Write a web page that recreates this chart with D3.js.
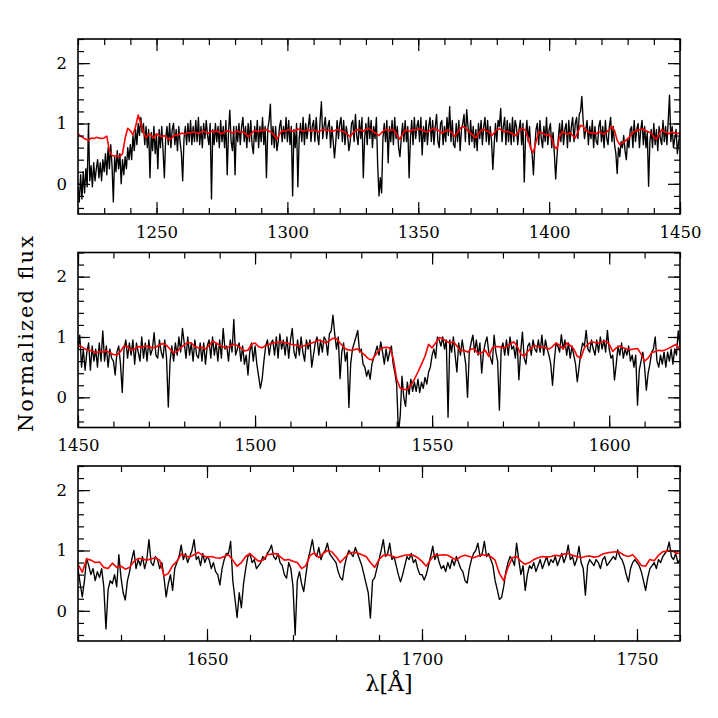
<!DOCTYPE html>
<html><head><meta charset="utf-8">
<script src="https://cdn.jsdelivr.net/npm/d3@7"></script>
<style>body{margin:0;background:#fff}</style>
</head><body>
<svg id="c" width="718" height="718"></svg>
<script>
// wavelength ranges of the three panels (Angstrom)
const range1 = [1220, 1450];
const range2 = [1450, 1620];
const range3 = [1620, 1760];
const xTicks1 = [1250, 1300, 1350, 1400, 1450];
const xTicks2 = [1450, 1500, 1550, 1600];
const xTicks3 = [1650, 1700, 1750];
const yTicks = [0, 1, 2];
const yDomain = [-0.5, 2.4];
const obsStep = 0.5;   // observed spectrum sampling (A)
const modelStep = 1;   // model spectrum sampling (A)
const xTitle = "λ[Å]";
const yTitle = "Normalized flux";

// observed normalized flux, panel 1, 1220..1450 every 0.5 A
const obs1 = [
-.05,-.3,.15,-.25,.2,-.15,.25,-.05,1.0,.05,
.3,-.05,.35,.05,.25,.4,.1,.35,.05,.4,
.2,.5,.15,.6,.25,.65,.3,-.3,.45,.2,
.55,.25,.5,.0,.4,.15,.45,.25,.6,.4,
.65,.4,.8,.55,.9,.65,1.0,.8,1.1,.85,
1.0,.65,.95,.6,.9,.1,.85,.55,.95,.5,
.8,.25,.9,.6,.95,.55,.1,.75,.95,.65,
1.0,.6,.9,1.0,.65,.9,.55,.95,.7,.5,
.05,.75,.95,.65,1.0,.7,1.05,.65,.95,.7,
1.05,.7,1.1,.65,.95,.6,1.0,.75,1.05,.8,
.65,1.0,-.25,.9,.65,1.0,.7,.95,.6,1.05,
.7,.95,.6,1.05,.15,.85,1.22,.7,.55,.95,
.15,.95,.7,1.0,.65,.95,1.1,.7,.95,.6,
1.0,.7,1.05,.65,.5,.95,.7,1.05,.6,.95,
.7,1.1,.65,.95,.1,.9,1.05,1.32,.65,.95,
.6,.95,.55,.7,.95,1.05,.7,.95,.75,1.1,
.7,1.05,.65,.95,-.2,.9,.6,1.0,-.05,.75,
1.0,.7,1.1,.65,1.0,.75,.95,1.15,.7,.95,
1.05,.7,1.1,.8,.65,1.05,1.36,.75,.95,1.1,
.75,.95,1.05,.6,.95,.7,.43,.7,1.05,.75,
1.0,1.1,.7,1.05,.65,.95,.8,.55,.7,1.0,
1.05,.7,1.15,.8,.65,1.05,.75,1.1,.1,.75,
1.0,.65,1.1,.75,1.05,.6,.95,.75,1.1,.3,
-.2,.1,-.15,.75,1.0,.7,1.05,.35,.95,.7,
1.05,.65,1.1,.75,.95,.6,.45,.75,1.0,.7,
1.05,.7,.95,.1,.75,1.05,.65,1.1,.75,.95,
1.05,.7,1.1,.48,.95,.7,1.05,.65,.95,1.1,
.7,1.05,.65,.95,1.15,.7,.6,1.0,1.05,.65,
.95,.7,1.1,.8,1.28,.7,1.05,.65,.6,1.0,
.7,1.05,.55,.9,1.0,1.15,.7,1.23,.95,.65,
1.05,.7,.95,.6,.9,.55,1.0,.75,1.05,.65,
.95,1.1,.7,1.05,.65,.95,.7,.24,.65,1.0,
.7,1.05,.95,1.25,.7,.95,1.1,.65,1.05,.7,
1.0,.65,1.1,.7,1.05,.95,.65,.9,1.05,.65,
1.0,.03,.8,1.05,.7,.95,.6,.5,.15,.6,
.9,1.0,.65,1.05,.75,.6,.95,.7,1.1,.65,
.9,1.0,.6,.85,.5,.08,.45,.75,1.0,.7,
1.05,.65,.9,1.0,.6,1.05,.7,.95,1.1,.7,
1.0,1.1,.75,1.15,1.2,1.45,1.05,.75,.9,1.05,
.65,.95,.75,1.05,.6,.95,.7,.65,.95,1.05,
.7,.95,.6,1.05,.75,.65,.95,1.1,.7,.95,
.65,.5,.17,.6,.45,.7,.6,.8,.55,.4,
.75,.6,.9,.95,.6,1.05,.7,.9,1.0,.6,
.9,1.05,.65,.95,.6,.85,-.04,.7,.9,.6,
1.0,.65,.9,.55,.95,.75,.65,1.05,.7,.95,
.65,1.05,1.47,.7,.95,.6,.75,.9,.5,.7,
.85];

// observed normalized flux, panel 2, 1450..1620 every 0.5 A
const obs2 = [
.8,1.03,.5,.8,.45,.75,.9,.45,.85,.6,
.8,.5,.9,.6,1.1,.6,.85,.5,.8,.65,
.6,.37,.75,.85,.55,.08,.8,.95,.65,.9,
.7,.95,.55,.9,.75,.6,1.0,.65,.9,.6,
.95,.7,.8,1.07,.7,.65,.95,.75,.65,.95,
.65,-.16,.6,.85,.6,.9,.7,1.0,.75,1.14,
.9,.65,1.0,.7,.9,.6,.95,.7,.65,.9,
.6,.9,.55,.85,.95,.65,1.0,.7,.9,.6,
.95,.65,1.14,.8,.85,.6,.95,.75,1.29,.7,
.8,.9,.6,.85,.55,.7,.37,.75,.9,.6,
.85,.55,.35,.15,.3,.6,.85,.95,.7,.9,
.95,.7,1.0,.65,1.05,.8,.95,.7,1.0,.65,
.95,1.14,.75,.65,.95,.7,1.0,.75,.6,.95,
.8,.95,.5,.7,.9,1.0,.7,.95,.75,1.0,
.95,.7,1.05,1.1,1.36,1.05,.8,1.0,.31,.75,
.9,.6,.75,-.17,.55,.8,.9,1.0,1.11,.75,
.8,.55,.5,.35,.45,.3,.55,.65,.75,.85,
.7,.92,.75,.55,.8,.6,.75,.85,.55,.4,
.2,-.6,-.3,.35,.0,-.15,.25,.05,.3,.1,
.25,.1,.3,.08,.25,.15,.33,.22,.42,.5,
.7,.8,.65,1.0,.95,.85,1.0,.8,.95,-.33,
.95,.75,1.0,.7,.42,.9,.7,.95,.75,.55,
.0,.75,.9,1.03,.75,.95,.7,.9,.4,.75,
.9,1.0,.75,.65,.55,1.03,.75,.6,-.21,.8,
.9,.7,.95,.7,1.0,.8,.85,.65,.95,.29,
.75,1.08,.65,.55,.85,.9,.7,.95,.8,.75,
.95,.75,1.03,.7,.95,.8,.7,.55,.2,.6,
.9,.85,.75,1.04,.8,.95,.7,.9,.65,.85,
.7,.55,.26,.5,.75,.9,.85,1.11,.8,.75,
.95,.8,.7,.95,.75,1.0,.8,.95,.75,1.11,
.8,.65,.7,.29,.55,.85,.7,.9,.65,.8,
.7,.85,.6,.7,.5,.7,-.13,.45,.6,.75,
.5,.12,.4,.55,.75,.8,1.0,.6,.5,.7,
.55,.75,.5,.75,.6,.8,.55,.8,.7,1.1,
.85];

// observed normalized flux, panel 3, 1620..1760 every 0.5 A
const obs3 = [
.7,.45,.23,.5,.87,.75,.6,.7,.5,.65,
.55,.7,.4,-.3,.35,.5,.45,.6,.4,.93,
.55,.3,.18,.5,.65,.85,1.0,.7,.85,.75,
.9,.7,.85,1.18,.8,.75,.9,.85,.7,.8,
.55,.23,.45,.6,.34,.7,.8,.9,1.09,.85,
.95,.8,.9,1.0,1.18,.85,.9,.75,.95,.8,
.9,.85,.7,.8,.65,.6,.43,.7,.85,.95,
.95,1.15,.5,.2,-.11,.3,.05,.45,.7,.9,
.95,.8,.85,.7,.75,.8,.9,.85,.95,1.0,
1.09,.9,.85,.95,.8,.75,.6,.54,.8,.7,
.4,-.4,.5,.65,.45,.32,.6,.85,1.0,1.18,
.95,.9,1.05,.85,.95,1.0,1.12,.95,.9,.85,
.8,.65,.55,.51,.75,.9,1.0,.95,.9,1.05,
.95,.85,.75,.6,.45,.3,-.12,.5,.55,.7,
.85,1.0,1.18,.9,.95,1.12,.85,.9,.75,.6,
.48,.6,.75,.9,.85,.95,.8,.85,.7,.6,
.6,.51,.6,.75,.9,1.07,.85,.95,.8,.7,
.75,.65,.8,.7,.85,.75,.9,.8,.7,.65,
.5,.46,.7,.85,.95,1.0,1.12,.9,.95,1.15,
.9,.95,.85,.75,.5,.35,.19,.22,.4,.65,
.8,.9,.85,.75,1.12,.85,.6,.75,.34,.6,
.75,.7,.8,.65,.75,.85,.7,.8,.9,.75,
.85,.8,.9,.75,.85,.95,.8,.9,1.09,.85,
.9,.75,.85,1.07,.8,.7,.26,.75,.85,.8,
.75,.85,.8,.7,.85,.9,.75,.8,.85,.9,
.85,1.01,.9,.85,.75,.6,.48,.7,.8,.85,
.8,.75,.65,.5,.34,.55,.7,.75,.8,.7,
.85,.8,.9,.95,1.0,1.14,.9,.85,.95,.8,
.85];

// model spectrum, panel 1, 1220..1450 every 1 A
const model1 = [
.83,.79,.76,.74,.72,.76,.75,.77,.76,.75,
.76,.79,.55,.47,.46,.46,.45,.5,.75,.92,
.88,.81,.95,1.14,1.0,.85,.76,.82,.8,.76,
.83,.8,.78,.8,.76,.73,.77,.81,.8,.83,
.84,.82,.85,.84,.86,.85,.83,.86,.87,.85,
.84,.87,.86,.88,.85,.83,.86,.88,.87,.84,
.86,.87,.85,.86,.83,.78,.82,.87,.88,.86,
.89,.88,.9,.87,.85,.8,.74,.82,.88,.87,
.89,.9,.87,.88,.91,.89,.87,.88,.9,.87,
.89,.88,.86,.89,.9,.88,.89,.87,.88,.9,
.89,.87,.85,.82,.78,.84,.88,.9,.89,.87,
.9,.92,.89,.86,.83,.8,.85,.89,.9,.88,
.9,.88,.8,.74,.82,.89,.88,.87,.9,.89,
.91,.9,.88,.86,.87,.9,.92,.9,.88,.84,
.86,.89,.88,.84,.79,.85,.92,.95,.93,.88,
.84,.8,.76,.83,.89,.9,.88,.86,.8,.84,
.9,.91,.89,.86,.87,.85,.83,.8,.84,.9,
.92,.88,.75,.58,.52,.7,.86,.85,.83,.8,
.82,.75,.62,.58,.78,.87,.84,.82,.85,.8,
.76,.86,.97,.95,.88,.86,.84,.85,.83,.86,
.84,.82,.86,.9,.95,.88,.72,.65,.68,.7,
.75,.79,.85,.88,.89,.9,.91,.88,.86,.84,
.78,.74,.82,.9,.86,.85,.83,.86,.84,.83,
.85];

// model spectrum, panel 2, 1450..1620 every 1 A
const model2 = [
.85,.84,.8,.78,.77,.74,.76,.75,.77,.74,
.71,.7,.76,.85,.84,.78,.8,.84,.83,.85,
.84,.82,.83,.87,.89,.86,.8,.74,.76,.82,
.87,.91,.9,.84,.82,.83,.8,.86,.93,.9,
.86,.84,.82,.85,.88,.86,.82,.77,.78,.88,
.9,.84,.82,.86,.88,.9,.91,.92,.91,.9,
.88,.87,.86,.84,.86,.88,.9,.92,.95,.93,
.9,.94,.98,.97,.9,.83,.79,.78,.79,.8,
.75,.7,.64,.62,.7,.78,.82,.83,.82,.65,
.3,.15,.13,.13,.2,.3,.42,.55,.68,.88,
.82,.9,.99,.97,.93,.9,.92,.85,.77,.78,
.75,.8,.8,.72,.74,.78,.68,.82,.84,.84,
.82,.84,.88,.92,.85,.72,.68,.76,.82,.86,
.84,.83,.82,.8,.84,.9,.86,.8,.9,.86,
.8,.68,.65,.82,.88,.92,.91,.9,.92,.93,
.88,.76,.82,.85,.82,.8,.79,.8,.81,.72,
.6,.65,.74,.76,.78,.77,.79,.82,.85,.88,
.78];

// model spectrum, panel 3, 1620..1760 every 1 A
const model3 = [
.77,.64,.86,.84,.8,.81,.72,.7,.79,.72,
.74,.69,.72,.82,.87,.86,.84,.86,.88,.84,
.58,.62,.75,.82,.94,.91,.89,.93,.97,.92,
.89,.9,.88,.87,.9,.93,.84,.74,.8,.9,
.95,.88,.82,.84,.93,.94,.95,.9,.84,.85,
.82,.8,.7,.75,.92,.96,.88,.95,1.0,.98,
.9,.8,.88,.95,.97,.96,.93,.9,.8,.72,
.85,.92,.93,.91,.88,.9,.92,.93,.92,.88,
.82,.74,.85,.93,.92,.93,.92,.88,.84,.9,
.92,.9,.88,.91,.93,.92,.9,.84,.62,.5,
.72,.88,.9,.82,.77,.8,.85,.88,.9,.89,
.9,.92,.91,.94,.95,.92,.9,.88,.9,.91,
.89,.9,.94,.96,.97,.98,.97,.92,.9,.93,
.85,.75,.74,.85,.83,.92,.98,.99,1.0,.96,
.95];

const L = 78, R = 680, PH = 175;
const tops = [39, 252.5, 466];
const FONT = "'DejaVu Serif', 'Liberation Serif', serif";
const svg = d3.select('#c');

const panels = [
  {range: range1, majors: xTicks1, obs: obs1, model: model1},
  {range: range2, majors: xTicks2, obs: obs2, model: model2},
  {range: range3, majors: xTicks3, obs: obs3, model: model3}
];

panels.forEach((p, i) => {
  const top = tops[i], bot = top + PH;
  const x = d3.scaleLinear().domain(p.range).range([L, R]);
  const y = d3.scaleLinear().domain(yDomain).range([bot, top]);
  const g = svg.append('g');
  const cid = 'clip' + i;
  svg.append('clipPath').attr('id', cid).append('rect')
    .attr('x', L).attr('y', top).attr('width', R - L).attr('height', PH);

  const mk = step => d3.line().x((d, j) => x(p.range[0] + j * step)).y(d => y(d));
  g.append('path').datum(p.obs).attr('clip-path', `url(#${cid})`)
    .attr('d', mk(obsStep)).attr('fill', 'none').attr('stroke', '#000')
    .attr('stroke-width', 1.35).attr('stroke-linejoin', 'round');
  g.append('path').datum(p.model).attr('clip-path', `url(#${cid})`)
    .attr('d', mk(modelStep)).attr('fill', 'none').attr('stroke', '#ff0000')
    .attr('stroke-width', 1.6).attr('stroke-linejoin', 'round');

  const minors = d3.range(Math.ceil(p.range[0] / 10) * 10, p.range[1] + 0.01, 10);
  const yMinor = d3.range(-4, 25, 2).map(v => v / 10);

  const ax = (gen, tr) => {
    const a = g.append('g').attr('transform', tr).call(gen);
    a.select('.domain').remove();
    a.selectAll('line').attr('stroke', '#000').attr('stroke-width', 1.2);
    a.selectAll('text').attr('font-family', FONT).attr('font-size', 16.5).attr('fill', '#000');
    return a;
  };
  ax(d3.axisBottom(x).tickValues(minors).tickSize(-6).tickFormat(''), `translate(0,${bot})`);
  ax(d3.axisBottom(x).tickValues(p.majors).tickSize(-12).tickPadding(12).tickFormat(d3.format('d')), `translate(0,${bot})`);
  ax(d3.axisTop(x).tickValues(minors).tickSize(-6).tickFormat(''), `translate(0,${top})`);
  ax(d3.axisTop(x).tickValues(p.majors).tickSize(-12).tickFormat(''), `translate(0,${top})`);
  ax(d3.axisLeft(y).tickValues(yMinor).tickSize(-6).tickFormat(''), `translate(${L},0)`);
  ax(d3.axisLeft(y).tickValues(yTicks).tickSize(-12).tickPadding(11).tickFormat(d3.format('d')), `translate(${L},0)`);
  ax(d3.axisRight(y).tickValues(yMinor).tickSize(-6).tickFormat(''), `translate(${R},0)`);
  ax(d3.axisRight(y).tickValues(yTicks).tickSize(-12).tickFormat(''), `translate(${R},0)`);

  g.append('rect').attr('x', L).attr('y', top).attr('width', R - L).attr('height', PH)
    .attr('fill', 'none').attr('stroke', '#000').attr('stroke-width', 1.6);
});

svg.append('text').attr('transform', 'translate(33,334) rotate(-90)')
  .attr('text-anchor', 'middle').attr('font-family', FONT).attr('font-size', 21)
  .attr('textLength', 196).attr('lengthAdjust', 'spacing').text(yTitle);
svg.append('text').attr('x', 389).attr('y', 691).attr('text-anchor', 'middle')
  .attr('font-family', FONT).attr('font-size', 22).text(xTitle);
</script>
</body></html>
